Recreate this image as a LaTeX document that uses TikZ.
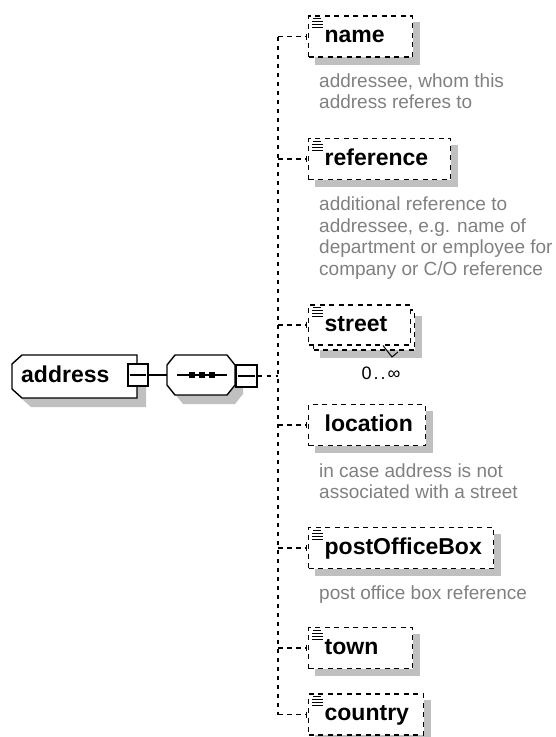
\documentclass[tikz,border=0pt]{standalone}
\usepackage{fontspec}
\setmainfont{Liberation Sans}
\usetikzlibrary{arrows.meta,backgrounds,calc}
\definecolor{shadowc}{RGB}{192,192,192}
\definecolor{descc}{RGB}{128,128,128}
\tikzset{
  lbl/.style={font=\fontsize{23}{26}\selectfont\bfseries},
  elem/.style={draw, dash pattern=on 5pt off 4.5pt, line width=1.3pt, fill=white, anchor=west,
     minimum height=41pt, inner xsep=16pt, inner ysep=0pt, text height=12.5pt, text depth=0pt,
     align=left, lbl, text width=#1},
  desc/.style={anchor=north west, inner sep=0pt, align=left, text=descc,
     font=\fontsize{19}{21.4}\selectfont},
  conn/.style={line width=1.3pt, dash pattern=on 4.5pt off 4.5pt, shorten >=1pt,
     -{Bar[width=6pt,line width=1.3pt]}},
  trunk/.style={line width=1.3pt, dash pattern=on 4.5pt off 4.5pt},
  outline/.style={line width=1.4pt, line join=miter},
  minusbox/.style={draw, line width=1.4pt, fill=white, minimum width=20pt,
     minimum height=22pt, inner sep=0pt},
  iconline/.style={line width=1.2pt},
}
\newcommand\xicon[1]{%
  \fill[white] ($(#1.north west)+(2,1.5)$) rectangle ++(14,12);
  \draw[iconline] ($(#1.north west)+(5,3.5)$) -- ++(8,0);
  \foreach \k in {1,2,3} \draw[iconline] ($(#1.north west)+(4,3.5+3*\k)$) -- ++(11,0);
}
\begin{document}
\begin{tikzpicture}[x=1pt,y=-1pt]
\useasboundingbox (0,0) rectangle (555,737);
\clip (0,0) rectangle (555,737);

% address element
\node[lbl, anchor=west, minimum width=125pt, minimum height=43pt, inner xsep=9pt,
  inner ysep=0pt, text width=107pt, text height=11.5pt, text depth=0pt, align=left]
  (address) at (12,376.5) {address};
\draw[outline] (22,355) -- (137,355) -- (137,398) -- (22,398) -- (12,389) -- (12,364) -- cycle;
\node[minusbox] (addrminus) at (138,375) {};
\draw[line width=1.4pt] ([xshift=3pt]addrminus.west) -- ([xshift=-3pt]addrminus.east);

% sequence compositor
\node[minimum width=68pt, minimum height=40pt, inner sep=0pt] (seq) at (201,375) {};
\draw[outline] (175,355) -- (227,355) -- (235,365) -- (235,385) -- (227,395) -- (175,395)
  -- (167,385) -- (167,365) -- cycle;
\draw[line width=1.4pt] (177,375) -- (227,375);
\foreach \x in {192,202,212} \fill (\x-3,372) rectangle (\x+3,378);
\node[minusbox, minimum width=21pt] (seqminus) at (246.5,376) {};
\draw[line width=1.4pt] ([xshift=3pt]seqminus.west) -- ([xshift=-3pt]seqminus.east);

\draw[line width=1.4pt] (addrminus.east) -- (seq.west);

% child elements
\node[elem=72pt] (name) at (308,36.5) {name};
\node[elem=110pt] (reference) at (308,159) {reference};
\node[elem=69pt, minimum height=40pt] (streetback) at (313,330) {};
\node[elem=70pt, minimum height=40pt] (street) at (308,325) {street};
\node[elem=85pt] (location) at (308,425) {location};
\node[elem=153pt] (pob) at (308,548) {postOfficeBox};
\node[elem=72pt] (town) at (308,648) {town};
\node[elem=83pt] (country) at (308,714.5) {country};

\foreach \n in {name,reference,street,pob,town,country} {\xicon{\n}}

% descriptions
\node[desc] (namedesc) at (319,73.6) {addressee, whom this\\address referes to};
\node[desc] (refdesc) at (319,197) {additional reference to\\addressee, e.g. name of\\department or employee for\\company or C/O reference};
\node[desc] (locdesc) at (319,463.6) {in case address is not\\associated with a street};
\node[desc] (pobdesc) at (319,585.6) {post office box reference};

% multiplicity
\node[font=\fontsize{18}{20}\selectfont, inner sep=0pt] (mult) at (381,373) {0\kern2pt.\kern2pt.\kern2pt∞};
\draw[line width=1pt] (383,345.5) -- (392,357) -- (398,352);

% connectors
\coordinate (trunkx) at (278,0);
\draw[trunk] (seqminus.east) -- (seqminus.east -| trunkx);
\draw[trunk] (name.west -| trunkx) -- (country.west -| trunkx);
\foreach \n in {name,reference,street,location,pob,town,country}
  \draw[conn] (\n.west -| trunkx) -- (\n.west);

% shadows and fills
\begin{scope}[on background layer]
  \fill[shadowc] (31,364) -- (146,364) -- (146,407) -- (31,407) -- (21,398) -- (21,373) -- cycle;
  \fill[white] (22,355) -- (137,355) -- (137,398) -- (22,398) -- (12,389) -- (12,364) -- cycle;
  \fill[shadowc] (183,364) -- (235,364) -- (243,374) -- (243,394) -- (235,404) -- (183,404)
    -- (175,394) -- (175,374) -- cycle;
  \fill[white] (175,355) -- (227,355) -- (235,365) -- (235,385) -- (227,395) -- (175,395)
    -- (167,385) -- (167,365) -- cycle;
  \foreach \n in {name,reference,streetback,location,pob,town,country}
    \fill[shadowc] ([shift={(7,7)}]\n.north west) rectangle ([shift={(7,7)}]\n.south east);
\end{scope}
\end{tikzpicture}
\end{document}
